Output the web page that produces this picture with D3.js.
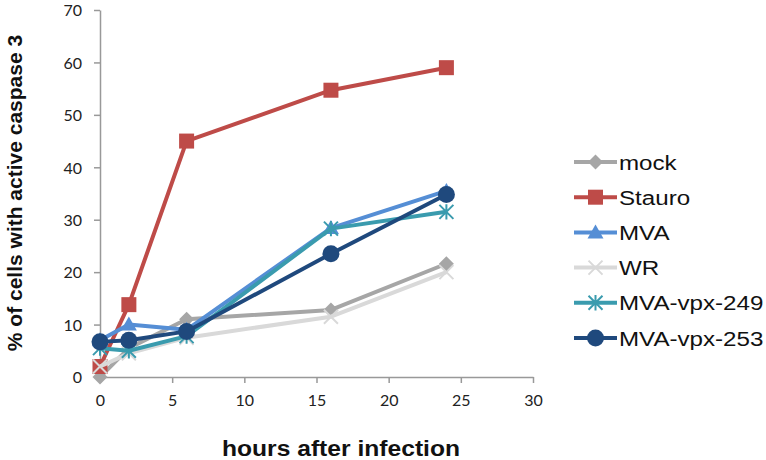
<!DOCTYPE html>
<html><head><meta charset="utf-8">
<script src="https://cdn.jsdelivr.net/npm/d3@7"></script>
<style>body{margin:0;background:#fff;} svg{display:block;}</style>
</head><body>
<svg id="c" width="766" height="460"></svg>
<script>
const hours = [0, 2, 6, 16, 24];
const seriesNames = ["mock", "Stauro", "MVA", "WR", "MVA-vpx-249", "MVA-vpx-253"];
const mock = [0, 5.5, 11, 12.8, 21.6];
const stauro = [2, 13.8, 45, 54.7, 59];
const mva = [7, 10, 9, 28.4, 35.5];
const wr = [2, 4.5, 7.5, 11.5, 20];
const vpx249 = [5.5, 5, 7.8, 28.3, 31.5];
const vpx253 = [6.7, 7, 8.7, 23.5, 34.8];
const xTicks = [0, 5, 10, 15, 20, 25, 30];
const yTicks = [0, 10, 20, 30, 40, 50, 60, 70];

const values = [mock, stauro, mva, wr, vpx249, vpx253];
const colors = ["#A6A6A6", "#BE4B48", "#558ED5", "#D9D9D9", "#3A9BAE", "#1F497D"];
const markers = ["diamond", "square", "triangle", "x", "asterisk", "circle"];

const svg = d3.select("#c");
const x = d3.scaleLinear().domain([0, 30]).range([100, 533]);
const y = d3.scaleLinear().domain([0, 70]).range([377, 10]);

const axisColor = "#999";
const tickFont = "Lato, 'Open Sans', sans-serif";

const gx = svg.append("g").attr("transform", "translate(0,377)")
  .call(d3.axisBottom(x).tickValues(xTicks).tickSize(6).tickPadding(12).tickSizeOuter(0));
const gy = svg.append("g").attr("transform", "translate(100,0)")
  .call(d3.axisLeft(y).tickValues(yTicks).tickSize(6).tickPadding(12).tickSizeOuter(0));
[gx, gy].forEach(g => {
  g.select(".domain").attr("stroke", axisColor).attr("stroke-width", 1.5);
  g.selectAll(".tick line").attr("stroke", axisColor).attr("stroke-width", 1.5);
  g.selectAll(".tick text").attr("fill", "#222").style("font-family", tickFont).style("font-size", "16px");
});
gy.selectAll(".tick text").attr("dy", "0.36em");

function drawMarker(g, type, color, cx, cy, s) {
  if (type === "diamond") {
    g.append("path").attr("d", `M${cx},${cy-s}L${cx+s},${cy}L${cx},${cy+s}L${cx-s},${cy}Z`).attr("fill", color);
  } else if (type === "square") {
    g.append("rect").attr("x", cx - s).attr("y", cy - s).attr("width", 2*s).attr("height", 2*s).attr("fill", color);
  } else if (type === "triangle") {
    g.append("path").attr("d", `M${cx},${cy-s}L${cx+s},${cy+s*0.75}L${cx-s},${cy+s*0.75}Z`).attr("fill", color);
  } else if (type === "x") {
    g.append("path").attr("d", `M${cx-s},${cy-s}L${cx+s},${cy+s}M${cx-s},${cy+s}L${cx+s},${cy-s}`).attr("stroke", color).attr("stroke-width", 2);
  } else if (type === "asterisk") {
    g.append("path").attr("d", `M${cx-s},${cy-s}L${cx+s},${cy+s}M${cx-s},${cy+s}L${cx+s},${cy-s}M${cx},${cy-s*1.1}L${cx},${cy+s*1.1}`).attr("stroke", color).attr("stroke-width", 2);
  } else if (type === "circle") {
    g.append("circle").attr("cx", cx).attr("cy", cy).attr("r", s).attr("fill", color);
  }
}
const markerSize = {diamond: 7.5, square: 7.5, triangle: 8, x: 7, asterisk: 7, circle: 8.5};

const line = d3.line().x((d, i) => x(hours[i])).y(d => y(d));
const plot = svg.append("g");
values.forEach((vals, k) => {
  const g = plot.append("g");
  g.append("path").datum(vals).attr("d", line).attr("fill", "none")
    .attr("stroke", colors[k]).attr("stroke-width", 4).attr("stroke-linejoin", "round");
  vals.forEach((v, i) => drawMarker(g, markers[k], colors[k], x(hours[i]), y(v), markerSize[markers[k]]));
});

// legend
const legend = svg.append("g");
seriesNames.forEach((name, k) => {
  const ly = 162 + k * 35.2;
  const g = legend.append("g");
  g.append("line").attr("x1", 574).attr("x2", 617).attr("y1", ly).attr("y2", ly)
    .attr("stroke", colors[k]).attr("stroke-width", 4);
  drawMarker(g, markers[k], colors[k], 595.5, ly, markerSize[markers[k]]);
  g.append("text").attr("transform", `translate(619,${ly}) scale(1.15,1)`).attr("dy", "0.36em")
    .style("font-family", "'Liberation Sans', Arial, sans-serif").style("font-size", "21px")
    .attr("fill", "#111").text(name);
});

// axis titles
svg.append("text").attr("transform", "translate(341,456) scale(1.12,1)").attr("text-anchor", "middle")
  .style("font-family", "'Liberation Sans', Arial, sans-serif").style("font-size", "22px").style("font-weight", "bold")
  .attr("fill", "#111").text("hours after infection");
svg.append("text").attr("transform", "translate(22,193) rotate(-90)").attr("text-anchor", "middle")
  .style("font-family", "'Liberation Sans', Arial, sans-serif").style("font-size", "21px").style("font-weight", "bold")
  .attr("fill", "#111").text("% of cells with active caspase 3");
</script>
</body></html>
